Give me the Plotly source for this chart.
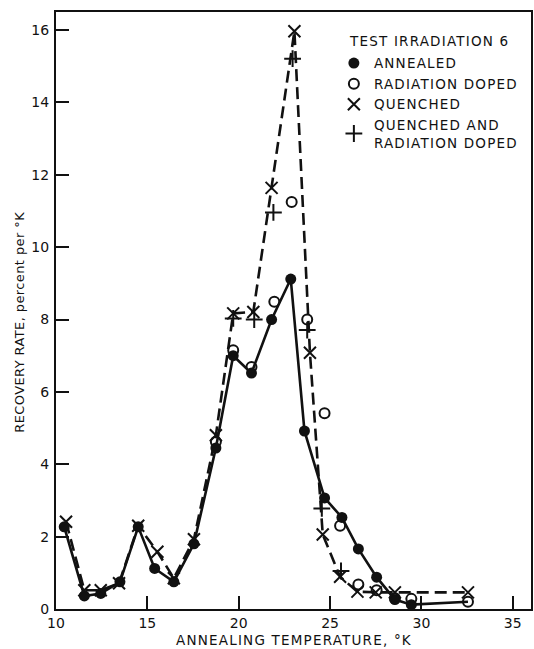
import plotly.graph_objects as go

# Annealed specimens (filled circles)
annealed_t = [10.45, 11.55, 12.45, 13.5, 14.5, 15.4, 16.45, 17.55, 18.75, 19.7, 20.7, 21.8, 22.85, 23.6, 24.7, 25.65, 26.55, 27.55, 28.55, 29.45]
annealed_r = [2.27, 0.36, 0.43, 0.75, 2.27, 1.12, 0.75, 1.80, 4.45, 7.0, 6.52, 8.0, 9.12, 4.92, 3.07, 2.53, 1.66, 0.88, 0.26, 0.12]

# Radiation doped (open circles)
doped_t = [18.75, 19.7, 20.7, 21.95, 22.9, 23.75, 24.7, 25.55, 26.55, 27.55, 28.55, 29.45, 32.55]
doped_r = [4.62, 7.15, 6.69, 8.49, 11.25, 8.0, 5.41, 2.30, 0.68, 0.52, 0.30, 0.28, 0.20]

# Quenched (crosses)
quenched_t = [10.55, 11.55, 12.45, 13.45, 14.5, 15.55, 16.45, 17.55, 18.75, 19.7, 20.8, 21.8, 23.05, 23.9, 24.6, 25.55, 26.5, 27.5, 28.55, 32.55]
quenched_r = [2.41, 0.52, 0.52, 0.71, 2.30, 1.58, 0.85, 1.93, 4.80, 8.17, 8.21, 11.64, 15.97, 7.08, 2.06, 0.89, 0.48, 0.46, 0.46, 0.46]

# Quenched and radiation doped (plus signs)
qdoped_t = [19.7, 20.85, 21.9, 22.95, 23.75, 24.55, 25.6]
qdoped_r = [8.03, 8.0, 10.96, 15.21, 7.71, 2.78, 1.05]

x_ticks = [10, 15, 20, 25, 30, 35]
y_ticks = [0, 2, 4, 6, 8, 10, 12, 14, 16]

INK = "#111111"
FONT = "DejaVu Sans"


def spaced(text, px=1.2):
    """Wide-tracked lettering."""
    return f'<span style="letter-spacing:{px}px">{text}</span>'


fig = go.Figure()

# Solid curve through the annealed points, carried on to the last reading
fig.add_trace(go.Scatter(
    x=annealed_t + [doped_t[-1]], y=annealed_r + [doped_r[-1]],
    mode="lines", line=dict(color=INK, width=2.6),
    showlegend=False, hoverinfo="skip"))

# Dashed curve through the quenched points
fig.add_trace(go.Scatter(
    x=quenched_t, y=quenched_r,
    mode="lines", line=dict(color=INK, width=2.6, dash="12px,6px"),
    showlegend=False, hoverinfo="skip"))

fig.add_trace(go.Scatter(
    x=annealed_t, y=annealed_r, mode="markers", name=spaced("ANNEALED"),
    marker=dict(symbol="circle", size=11, color=INK, line=dict(width=0))))

fig.add_trace(go.Scatter(
    x=doped_t, y=doped_r, mode="markers", name=spaced("RADIATION DOPED"),
    marker=dict(symbol="circle-open", size=10, color=INK, line=dict(width=2, color=INK))))

fig.add_trace(go.Scatter(
    x=quenched_t, y=quenched_r, mode="markers", name=spaced("QUENCHED"),
    marker=dict(symbol="x-thin-open", size=12, color=INK, line=dict(width=2, color=INK))))

fig.add_trace(go.Scatter(
    x=qdoped_t, y=qdoped_r, mode="markers",
    name=spaced("QUENCHED AND") + "<br>" + spaced("RADIATION DOPED"),
    marker=dict(symbol="cross-thin-open", size=12, color=INK, line=dict(width=2, color=INK))))

axis_common = dict(
    showgrid=False, zeroline=False, showline=True, linecolor=INK, linewidth=2,
    mirror=True, ticks="inside", ticklen=13, tickwidth=2, tickcolor=INK,
    tickfont=dict(family=FONT, size=14, color=INK),
)

fig.update_xaxes(range=[10, 36], tickvals=x_ticks, ticktext=[str(v) for v in x_ticks],
                 ticklabelstandoff=0, **axis_common)
fig.update_yaxes(range=[0, 16.5], tickvals=y_ticks, ticktext=[str(v) for v in y_ticks],
                 ticklabelstandoff=2, **axis_common)

fig.add_annotation(text=spaced("ANNEALING TEMPERATURE, °K"), xref="paper", yref="paper",
                   x=0.5, y=-0.052, showarrow=False, xanchor="center", yanchor="middle",
                   font=dict(family=FONT, size=13.5, color=INK))
fig.add_annotation(text=spaced("RECOVERY RATE, percent per °K", 0.4), xref="paper", yref="paper",
                   x=-0.076, y=0.481, showarrow=False, textangle=-90,
                   xanchor="center", yanchor="middle",
                   font=dict(family=FONT, size=13, color=INK))

# Legend heading
fig.add_annotation(text=spaced("TEST IRRADIATION 6"), xref="paper", yref="paper",
                   x=(348 - 56) / 477, y=(609 - 41) / 597, showarrow=False,
                   xanchor="left", yanchor="middle",
                   font=dict(family=FONT, size=13.5, color=INK))

fig.update_layout(
    width=534, height=649,
    margin=dict(l=56, r=1, t=12, b=40),
    paper_bgcolor="white", plot_bgcolor="white",
    legend=dict(
        font=dict(family=FONT, size=13.5, color=INK),
        x=0.585, y=0.94, xanchor="left", yanchor="top",
        bgcolor="rgba(0,0,0,0)", borderwidth=0, tracegroupgap=0,
    ),
)

fig.write_html("out.html")
